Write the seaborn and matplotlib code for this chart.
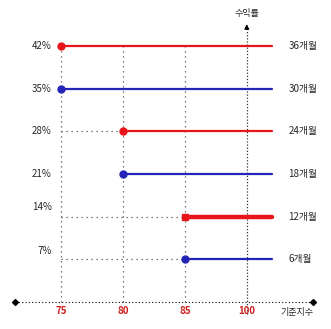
import matplotlib
matplotlib.use("Agg")
import matplotlib.pyplot as plt
import seaborn as sns
import pandas as pd

sns.set_style("white")
plt.rcParams['font.family'] = ['Noto Sans CJK KR', 'DejaVu Sans']

# data
rates = [42, 35, 28, 21, 14, 7]
periods = ['36개월', '30개월', '24개월', '18개월', '12개월', '6개월']
start_level = ['75', '75', '80', '80', '85', '85']
x_labels = ['75', '80', '85', '100']
series_colors = ['#e8141b', '#2424b8', '#e8141b', '#2424b8', '#e8141b', '#2424b8']

pos = {lab: i for i, lab in enumerate(x_labels)}
line_end = 3.41
label_shift = [0, 0, 0, 0, 1.6, 1.3]

rows = []
for r, p, s in zip(rates, periods, start_level):
    rows.append({'x': pos[s], 'y': r, 'period': p})
    rows.append({'x': line_end, 'y': r, 'period': p})
df = pd.DataFrame(rows)

fig = plt.figure(figsize=(3.31, 3.29), dpi=100)
ax = fig.add_axes([0, 0, 1, 1])
ax.set_xlim(-0.985, 4.36)
ax.set_ylim(-4.4, 49.5)
ax.axis('off')

grid_kw = dict(color='#555555', lw=0.9, ls=(0, (1, 3)), zorder=1)
# vertical guides at each strike level
for i in range(3):
    ax.plot([i, i], [0, rates[0]], **grid_kw)
# y axis at 100 with arrow
ax.plot([3, 3], [-2.0, 45.0], color='#333333', lw=0.9, ls=(0, (1, 1.5)), zorder=1)
ax.annotate('', xy=(3, 46.0), xytext=(3, 44.5),
            arrowprops=dict(arrowstyle='-|>', color='black', lw=0.8, mutation_scale=7))
ax.text(3, 46.6, '수익률', ha='center', va='bottom', fontsize=6.5)

# horizontal guides from label to start of each line
for r, s in zip(rates, start_level):
    if pos[s] > 0 and r != 21:
        ax.plot([0, pos[s]], [r, r], **grid_kw)

# x axis
ax.plot([-0.745, 4.07], [0, 0], color='black', lw=0.8, ls=(0, (1, 2)), zorder=1)
ax.plot([-0.745, 4.07], [0, 0], marker='D', ms=3, color='black', lw=0, zorder=2)

sns.lineplot(data=df, x='x', y='y', hue='period', hue_order=periods,
             palette=series_colors, legend=False, ax=ax, lw=1.6, zorder=3)

for r, p, s, c, sh in zip(rates, periods, start_level, series_colors, label_shift):
    if r == 14:
        # 12개월 line is drawn thicker with a square start
        ax.plot([pos[s], line_end], [r, r], color=c, lw=3.2, zorder=3)
        ax.plot(pos[s], r, marker='s', ms=5, color=c, zorder=4)
    else:
        ax.plot(pos[s], r, marker='o', ms=5, color=c, zorder=4)
    ax.text(-0.15, r + sh, f'{r}%', ha='right', va='center', fontsize=7)
    ax.text(3.67, r, p, ha='left', va='center', fontsize=7)

for i, lab in enumerate(x_labels):
    ax.text(i, -1.4, lab, ha='center', va='center', fontsize=7, color='#cc1f1f',
            fontweight='bold')
ax.text(3.55, -1.7, '기준지수', ha='left', va='center', fontsize=6.5)

fig.savefig('out.png', dpi=100)
